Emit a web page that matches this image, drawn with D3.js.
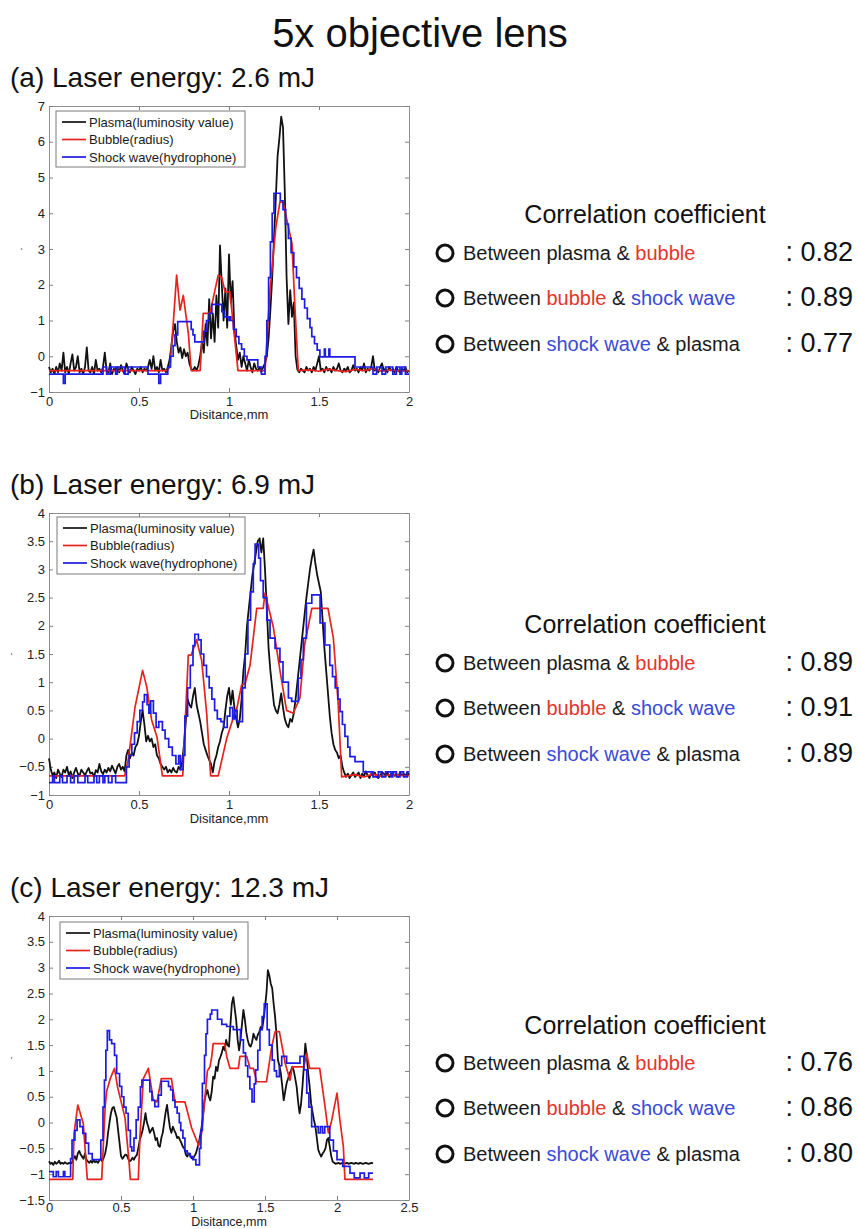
<!DOCTYPE html>
<html>
<head>
<meta charset="utf-8">
<script src="https://cdn.jsdelivr.net/npm/d3@7"></script>
<style>
  body { margin: 0; background: #fff; }
  svg text { font-family: "Liberation Sans", Arial, Helvetica, sans-serif; }
</style>
</head>
<body>
<svg id="fig" width="859" height="1229"></svg>
<script>
// ---------- text ----------
const figureTitle = "5x objective lens";
const panelLabels = ["(a) Laser energy: 2.6 mJ", "(b) Laser energy: 6.9 mJ", "(c) Laser energy: 12.3 mJ"];
const seriesNames = ["Plasma(luminosity value)", "Bubble(radius)", "Shock wave(hydrophone)"];
const xAxisLabel = "Disitance,mm";
const corrTitle = "Correlation coefficient";

// ---------- correlation coefficients per panel (plasma&bubble, bubble&shock, shock&plasma) ----------
const corrA = [0.82, 0.89, 0.77];
const corrB = [0.89, 0.91, 0.89];
const corrC = [0.76, 0.86, 0.80];

// ---------- tick values ----------
const xTicksA = [0, 0.5, 1, 1.5, 2];
const yTicksA = [-1, 0, 1, 2, 3, 4, 5, 6, 7];
const xTicksB = [0, 0.5, 1, 1.5, 2];
const yTicksB = [-1, -0.5, 0, 0.5, 1, 1.5, 2, 2.5, 3, 3.5, 4];
const xTicksC = [0, 0.5, 1, 1.5, 2, 2.5];
const yTicksC = [-1.5, -1, -0.5, 0, 0.5, 1, 1.5, 2, 2.5, 3, 3.5, 4];

// ---------- plasma luminosity, sampled every 0.01 mm from 0 ----------
const plasmaStep = 0.01;
const plasmaA = [
  -0.3,-0.45,-0.35,-0.5,-0.3,-0.45,-0.2,-0.4,0.1,-0.45,
  -0.3,-0.5,-0.2,0.05,-0.4,-0.3,0.0,-0.45,-0.35,-0.5,
  -0.3,0.25,-0.4,-0.45,-0.3,-0.5,-0.1,-0.4,-0.35,-0.45,
  -0.3,0.1,-0.4,-0.45,-0.2,-0.5,-0.35,-0.4,-0.3,-0.45,
  -0.25,-0.4,-0.5,-0.2,-0.35,-0.45,-0.3,-0.4,-0.5,-0.35,
  -0.4,-0.3,-0.45,-0.35,-0.4,-0.3,-0.1,-0.35,0.0,-0.4,
  -0.3,-0.45,-0.1,-0.4,-0.35,-0.45,-0.3,-0.1,0.3,0.7,
  0.9,0.4,0.1,0.25,-0.05,0.2,0.0,0.1,-0.2,-0.35,
  -0.4,-0.3,-0.4,-0.25,0.0,0.4,0.1,0.9,0.3,1.6,
  0.5,1.2,0.4,1.7,0.8,3.1,2.0,1.0,1.9,0.8,
  2.85,1.5,2.1,0.7,0.3,-0.1,0.1,-0.3,0.0,-0.2,
  -0.4,-0.1,-0.3,-0.45,-0.2,-0.35,-0.4,-0.3,-0.45,-0.3,
  -0.2,0.0,0.5,1.3,2.2,3.3,4.4,5.6,6.1,6.7,
  6.4,4.6,2.2,0.9,1.85,1.1,1.5,0.0,-0.38,-0.45,
  -0.35,-0.4,-0.45,-0.3,-0.4,-0.35,-0.45,-0.3,-0.4,-0.2,
  0.0,-0.4,-0.35,-0.45,-0.3,-0.4,-0.35,-0.45,-0.3,-0.4,
  -0.35,-0.2,-0.4,-0.45,-0.35,-0.4,-0.3,-0.45,-0.4,-0.25,
  -0.4,-0.35,-0.45,-0.3,-0.4,-0.2,-0.45,-0.35,-0.4,-0.3,
  0.0,-0.4,-0.35,-0.45,-0.3,-0.2,-0.4,-0.35,-0.45,-0.3,
  -0.4,-0.35,-0.45,-0.3,-0.4,-0.45,-0.35,-0.4,-0.3,-0.45,-0.4
];
const plasmaB = [
  -0.35,-0.55,-0.65,-0.6,-0.7,-0.55,-0.62,-0.68,-0.55,-0.6,
  -0.5,-0.65,-0.58,-0.7,-0.6,-0.52,-0.62,-0.66,-0.55,-0.6,
  -0.65,-0.58,-0.52,-0.62,-0.6,-0.68,-0.56,-0.6,-0.45,-0.58,
  -0.63,-0.55,-0.6,-0.52,-0.58,-0.48,-0.55,-0.62,-0.5,-0.45,
  -0.55,-0.5,-0.58,-0.3,-0.2,-0.35,-0.25,-0.3,-0.15,-0.1,
  0.05,0.3,0.5,0.25,-0.05,0.05,-0.05,0.0,-0.15,-0.1,
  -0.3,-0.35,-0.45,-0.5,-0.55,-0.5,-0.6,-0.55,-0.6,-0.52,
  -0.58,-0.6,-0.5,-0.55,-0.4,-0.1,0.3,0.7,0.6,0.55,
  0.75,0.9,0.6,0.45,0.3,0.1,-0.1,-0.2,-0.3,-0.38,
  -0.45,-0.6,-0.4,-0.3,-0.15,-0.05,0.1,0.2,0.5,0.75,
  0.9,0.6,0.85,0.55,0.35,0.2,0.35,0.7,1.2,1.5,
  2.0,2.3,2.6,2.9,3.1,3.3,3.5,3.55,3.3,3.55,
  3.0,2.3,1.6,1.2,0.9,0.6,0.5,0.45,0.6,0.8,
  0.55,0.35,0.25,0.2,0.35,0.3,0.45,0.7,1.0,1.3,
  1.6,1.9,2.2,2.5,2.75,3.0,3.2,3.35,3.1,2.9,
  2.75,2.6,2.1,1.6,1.2,0.8,0.4,0.1,-0.1,-0.2,
  -0.25,-0.35,-0.3,-0.5,-0.6,-0.68,-0.62,-0.7,-0.65,-0.6,
  -0.68,-0.64,-0.6,-0.7,-0.62,-0.66,-0.58,-0.65,-0.7,-0.62,
  -0.66,-0.6,-0.68,-0.7,-0.65,-0.6,-0.62,-0.66,-0.6,-0.68,
  -0.64,-0.6,-0.66,-0.62,-0.68,-0.6,-0.65,-0.62,-0.66,-0.6,-0.64
];
const plasmaC = [
  -0.75,-0.8,-0.78,-0.82,-0.76,-0.8,-0.78,-0.74,-0.8,-0.78,
  -0.8,-0.77,-0.79,-0.8,-0.78,-0.79,-0.78,-0.7,-0.65,-0.72,
  -0.6,-0.55,-0.62,-0.66,-0.7,-0.6,-0.72,-0.75,-0.78,-0.74,
  -0.78,-0.72,-0.77,-0.75,-0.78,-0.73,-0.7,-0.75,-0.68,-0.6,
  -0.45,-0.2,0.0,0.18,0.28,0.3,0.2,0.1,-0.15,-0.4,
  -0.65,-0.7,-0.66,-0.62,-0.63,-0.7,-0.75,-0.73,-0.68,-0.72,
  -0.66,-0.63,-0.5,-0.34,-0.25,-0.15,0.0,0.18,0.0,-0.08,
  -0.2,-0.15,-0.1,-0.2,-0.34,-0.3,-0.45,-0.47,-0.3,-0.2,
  0.0,0.2,0.34,0.1,-0.1,-0.2,-0.08,-0.15,-0.21,-0.3,
  -0.28,-0.34,-0.4,-0.47,-0.5,-0.62,-0.66,-0.6,-0.62,-0.69,
  -0.7,-0.65,-0.6,-0.5,-0.4,-0.25,-0.08,0.15,0.43,0.55,
  0.63,0.5,0.43,0.6,0.89,0.85,1.08,1.0,1.2,1.27,
  1.35,1.47,1.4,1.6,1.5,1.47,1.9,2.3,2.43,2.2,
  1.98,1.6,1.4,1.6,1.9,2.18,2.0,1.75,1.6,1.5,
  1.47,1.55,1.72,1.65,1.6,1.7,1.75,1.85,1.8,2.0,
  2.24,2.5,2.95,2.85,2.69,2.6,2.3,2.05,1.7,1.21,
  1.1,0.95,0.7,0.43,0.6,0.76,0.85,0.95,1.0,1.08,
  1.0,0.85,0.69,0.4,0.18,0.35,0.69,1.1,1.53,1.3,
  0.95,0.7,0.37,0.2,0.05,-0.08,-0.3,-0.53,-0.6,-0.66,
  -0.6,-0.56,-0.5,-0.34,-0.3,-0.47,-0.65,-0.76,-0.78,-0.8,
  -0.79,-0.78,-0.8,-0.79,-0.78,-0.8,-0.79,-0.78,-0.8,-0.79,
  -0.78,-0.79,-0.8,-0.78,-0.79,-0.8,-0.78,-0.79,-0.8,-0.79,
  -0.78,-0.79,-0.8,-0.79,-0.78,-0.79
];

// ---------- bubble radius: [distance mm, value] ----------
const bubbleA = [
  [0,-0.4],[0.655,-0.4],[0.672,-0.3],[0.69,0.9],[0.709,2.27],[0.728,1.29],[0.746,1.7],
  [0.774,0.65],[0.79,-0.4],[0.84,-0.4],[0.857,1.2],[0.894,1.2],[0.94,2.27],[0.96,2.2],
  [0.978,1.8],[1.005,1.8],[1.05,-0.4],[1.2,-0.4],[1.228,1.85],[1.26,3.6],[1.283,4.32],
  [1.3,4.3],[1.33,3.62],[1.35,3.15],[1.367,1.29],[1.385,-0.4],[1.45,-0.38],[1.5,-0.42],
  [1.55,-0.36],[1.6,-0.4],[1.65,-0.43],[1.7,-0.37],[1.75,-0.4],[1.8,-0.35],[1.85,-0.42],
  [1.9,-0.38],[1.95,-0.42],[2.0,-0.4]
];
const bubbleB = [
  [0,-0.66],[0.42,-0.66],[0.44,-0.38],[0.478,0.56],[0.52,1.21],[0.543,0.92],[0.57,0.33],
  [0.6,0.03],[0.63,-0.66],[0.743,-0.66],[0.774,1.48],[0.79,1.48],[0.82,1.75],[0.848,1.39],
  [0.876,0.45],[0.898,-0.66],[0.94,-0.66],[0.987,0.0],[1.024,0.37],[1.04,0.48],[1.07,0.95],
  [1.09,0.98],[1.117,1.3],[1.154,2.31],[1.19,2.31],[1.2,2.58],[1.246,1.98],[1.283,1.21],
  [1.32,0.5],[1.357,0.45],[1.394,0.72],[1.42,1.66],[1.46,2.31],[1.55,2.31],[1.58,1.78],
  [1.607,0.6],[1.626,-0.68],[1.7,-0.64],[1.75,-0.68],[1.8,-0.63],[1.85,-0.67],[1.9,-0.64],[2.0,-0.66]
];
const bubbleC = [
  [0,-1.1],[0.165,-1.1],[0.174,-0.21],[0.2,0.34],[0.238,-0.02],[0.266,-1.1],[0.366,-1.1],
  [0.39,0.3],[0.4,0.6],[0.425,0.85],[0.455,1.05],[0.475,0.7],[0.528,0.09],[0.557,-0.8],
  [0.565,-1.1],[0.62,-1.1],[0.632,-0.25],[0.655,0.85],[0.69,1.05],[0.724,0.44],[0.75,0.4],
  [0.78,0.85],[0.85,0.85],[0.875,0.4],[0.944,0.4],[0.99,-0.1],[1.04,-0.45],[1.06,-0.2],
  [1.08,0.4],[1.1,1.0],[1.118,1.08],[1.13,1.27],[1.14,1.53],[1.22,1.53],[1.234,1.28],
  [1.257,1.05],[1.315,1.05],[1.326,1.28],[1.373,1.28],[1.396,1.05],[1.42,1.05],[1.442,0.79],
  [1.51,0.79],[1.547,1.47],[1.57,1.76],[1.6,1.76],[1.64,1.15],[1.674,0.82],[1.69,1.08],
  [1.77,1.08],[1.79,1.34],[1.81,1.05],[1.88,1.05],[1.917,0.31],[1.94,-0.2],[1.96,0.0],
  [2.0,0.57],[2.02,0.05],[2.044,-0.46],[2.055,-1.1],[2.25,-1.1]
];

// ---------- shock wave (hydrophone), stepped: [distance mm, value] ----------
const shockA = [
  [0,-0.5],[0.08,-0.76],[0.09,-0.5],[0.3,-0.3],[0.32,-0.5],[0.34,-0.3],[0.37,-0.5],[0.38,-0.3],
  [0.42,-0.5],[0.44,-0.3],[0.55,-0.5],[0.61,-0.76],[0.62,-0.5],[0.66,-0.3],[0.675,0.0],
  [0.69,0.3],[0.7,0.6],[0.715,0.97],[0.79,0.75],[0.8,0.6],[0.81,0.4],[0.86,0.7],[0.875,1.0],
  [0.89,1.2],[0.905,1.45],[0.96,1.25],[0.975,1.1],[1.0,1.0],[1.005,1.1],[1.01,1.0],[1.025,0.75],
  [1.04,0.55],[1.055,0.35],[1.07,0.2],[1.085,0.0],[1.1,-0.1],[1.16,-0.3],[1.18,-0.5],[1.2,0.0],
  [1.21,1.0],[1.22,2.2],[1.23,3.2],[1.24,4.0],[1.25,4.56],[1.285,4.35],[1.3,4.1],[1.315,3.7],
  [1.33,3.3],[1.345,2.9],[1.36,2.5],[1.375,2.2],[1.39,1.9],[1.405,1.6],[1.42,1.35],[1.435,1.05],
  [1.45,0.8],[1.46,0.55],[1.475,0.35],[1.49,0.17],[1.505,-0.02],[1.53,0.2],[1.535,-0.02],
  [1.555,0.2],[1.56,-0.02],[1.7,-0.3],[1.8,-0.5],[1.82,-0.3],[1.85,-0.5],[1.87,-0.3],[1.91,-0.5],
  [1.93,-0.3],[1.95,-0.5],[1.96,-0.3],[1.98,-0.5],[2.0,-0.5]
];
const shockB = [
  [0,-0.78],[0.02,-0.66],[0.03,-0.78],[0.06,-0.66],[0.075,-0.78],[0.1,-0.66],[0.12,-0.78],
  [0.14,-0.66],[0.16,-0.78],[0.2,-0.66],[0.215,-0.78],[0.25,-0.66],[0.265,-0.78],[0.28,-0.66],
  [0.3,-0.78],[0.31,-0.66],[0.33,-0.78],[0.35,-0.66],[0.37,-0.78],[0.43,-0.5],[0.445,-0.3],
  [0.46,-0.1],[0.475,0.1],[0.49,0.3],[0.505,0.5],[0.52,0.65],[0.53,0.78],[0.545,0.6],[0.555,0.45],
  [0.565,0.67],[0.58,0.45],[0.595,0.2],[0.61,0.3],[0.63,0.15],[0.645,0.0],[0.665,-0.15],
  [0.685,-0.3],[0.705,-0.45],[0.72,-0.3],[0.73,-0.55],[0.745,-0.3],[0.755,0.4],[0.77,0.9],
  [0.785,1.3],[0.8,1.65],[0.81,1.85],[0.83,1.75],[0.845,1.5],[0.86,1.3],[0.875,1.1],[0.89,0.9],
  [0.905,0.7],[0.92,0.5],[0.935,0.35],[0.955,0.3],[0.97,0.2],[0.99,0.4],[1.005,0.55],[1.02,0.35],
  [1.03,0.5],[1.045,0.3],[1.075,0.9],[1.09,1.5],[1.105,2.1],[1.12,2.6],[1.135,3.1],[1.145,3.45],
  [1.165,3.2],[1.175,2.8],[1.19,2.5],[1.21,2.1],[1.228,1.78],[1.256,1.6],[1.283,1.36],[1.3,1.0],
  [1.33,0.72],[1.348,0.66],[1.385,1.07],[1.4,1.4],[1.413,1.78],[1.43,2.4],[1.46,2.55],[1.487,2.55],
  [1.506,2.05],[1.533,1.66],[1.56,1.3],[1.575,1.1],[1.59,0.9],[1.605,0.7],[1.617,0.48],[1.63,0.25],
  [1.644,0.04],[1.66,-0.15],[1.672,-0.32],[1.7,-0.41],[1.746,-0.59],[1.8,-0.68],[1.83,-0.59],
  [1.85,-0.68],[1.87,-0.59],[1.9,-0.68],[1.91,-0.59],[1.93,-0.68],[1.95,-0.59],[1.97,-0.68],
  [1.99,-0.59],[2.0,-0.59]
];
const shockC = [
  [0,-0.95],[0.03,-1.05],[0.05,-0.95],[0.065,-1.05],[0.1,-0.95],[0.11,-1.05],[0.15,-0.7],
  [0.16,-0.34],[0.18,-0.15],[0.195,0.05],[0.215,-0.08],[0.235,-0.21],[0.255,-0.4],[0.275,-0.6],
  [0.3,-0.72],[0.36,-0.34],[0.375,0.3],[0.385,0.82],[0.395,1.4],[0.405,1.78],[0.42,1.6],
  [0.435,1.53],[0.455,1.3],[0.47,0.95],[0.49,0.7],[0.505,0.5],[0.52,0.3],[0.535,0.18],
  [0.55,-0.15],[0.565,-0.47],[0.575,-0.55],[0.59,-0.3],[0.605,0.05],[0.62,0.3],[0.635,0.69],
  [0.645,0.82],[0.7,0.6],[0.715,0.43],[0.735,0.31],[0.76,0.53],[0.78,0.8],[0.83,0.7],
  [0.845,0.63],[0.86,0.43],[0.875,0.3],[0.89,0.18],[0.905,0.0],[0.915,-0.15],[0.93,-0.3],
  [0.944,-0.55],[0.96,-0.6],[0.98,-0.66],[1.0,-0.72],[1.02,-0.82],[1.045,-0.5],[1.055,-0.15],
  [1.065,0.76],[1.08,1.3],[1.09,1.72],[1.1,2.0],[1.12,2.1],[1.13,2.18],[1.17,2.0],[1.2,1.9],
  [1.234,1.86],[1.28,1.8],[1.33,1.6],[1.35,1.35],[1.365,1.1],[1.38,0.89],[1.395,0.65],
  [1.41,0.4],[1.425,0.75],[1.435,1.02],[1.45,1.4],[1.465,1.8],[1.48,2.05],[1.495,2.3],
  [1.515,1.8],[1.53,1.5],[1.55,1.21],[1.565,1.0],[1.58,0.89],[1.6,1.1],[1.616,1.28],
  [1.65,1.15],[1.72,1.15],[1.743,1.28],[1.77,1.02],[1.79,0.57],[1.805,0.3],[1.824,-0.08],
  [1.87,-0.2],[1.885,-0.08],[1.9,-0.2],[1.915,-0.08],[1.95,-0.34],[1.975,-0.55],[2.0,-0.72],
  [2.04,-0.85],[2.09,-0.98],[2.12,-1.07],[2.16,-0.98],[2.19,-1.07],[2.22,-0.98],[2.25,-0.98]
];

// ---------- drawing ----------
const svg = d3.select("#fig");
const LINE = { plasma: "#111111", bubble: "#e8231d", shock: "#1c1ce6" };
const WORD_RED = "#e3362c";
const WORD_BLUE = "#3a4ad6";

svg.append("text")
  .attr("x", 420).attr("y", 47)
  .attr("text-anchor", "middle")
  .attr("font-size", 40)
  .attr("fill", "#111")
  .text(figureTitle);

const layout = [
  { top: 106, bottom: 392, labelY: 87, markX: 21, tickPad: 5, xTitleY: 419, xTitleSize: 13, legend: { x: 56, y: 111, w: 189, h: 56 }, corrY: 223, rowY: [260, 305, 351] },
  { top: 513, bottom: 795, labelY: 494, markX: 11, tickPad: 5, xTitleY: 823, xTitleSize: 13, legend: { x: 57, y: 517, w: 188, h: 57 }, corrY: 633, rowY: [670, 715, 761] },
  { top: 916, bottom: 1200, labelY: 897, markX: 11, tickPad: 3, xTitleY: 1226, xTitleSize: 12.5, legend: { x: 60, y: 922, w: 188, h: 57 }, corrY: 1034, rowY: [1070, 1115, 1161] }
];

const panelData = [
  { plasma: plasmaA, bubble: bubbleA, shock: shockA, xTicks: xTicksA, yTicks: yTicksA, corr: corrA },
  { plasma: plasmaB, bubble: bubbleB, shock: shockB, xTicks: xTicksB, yTicks: yTicksB, corr: corrB },
  { plasma: plasmaC, bubble: bubbleC, shock: shockC, xTicks: xTicksC, yTicks: yTicksC, corr: corrC }
];

const LEFT = 49, RIGHT = 409;
const tickFmt = d3.format("~g");

// Row text pieces: [text, colour]
const corrRows = [
  [["Between plasma & ", "#1a1a1a"], ["bubble", WORD_RED]],
  [["Between ", "#1a1a1a"], ["bubble", WORD_RED], [" & ", "#1a1a1a"], ["shock wave", WORD_BLUE]],
  [["Between ", "#1a1a1a"], ["shock wave", WORD_BLUE], [" & plasma", "#1a1a1a"]]
];

panelData.forEach((d, i) => {
  const L = layout[i];
  const x = d3.scaleLinear().domain(d3.extent(d.xTicks)).range([LEFT, RIGHT]);
  const y = d3.scaleLinear().domain(d3.extent(d.yTicks)).range([L.bottom, L.top]);

  // panel heading
  svg.append("text")
    .attr("x", 10).attr("y", L.labelY)
    .attr("font-size", 28).attr("fill", "#111")
    .text(panelLabels[i]);

  const g = svg.append("g");
  g.append("rect")
    .attr("x", LEFT).attr("y", L.top)
    .attr("width", RIGHT - LEFT).attr("height", L.bottom - L.top)
    .attr("fill", "#fff");

  // axes with inward ticks on all four sides
  const axB = g.append("g").attr("transform", `translate(0,${L.bottom})`)
    .call(d3.axisBottom(x).tickValues(d.xTicks).tickFormat(tickFmt).tickSizeInner(-4).tickSizeOuter(0).tickPadding(L.tickPad));
  const axT = g.append("g").attr("transform", `translate(0,${L.top})`)
    .call(d3.axisTop(x).tickValues(d.xTicks).tickFormat("").tickSizeInner(-4).tickSizeOuter(0));
  const axL = g.append("g").attr("transform", `translate(${LEFT},0)`)
    .call(d3.axisLeft(y).tickValues(d.yTicks).tickFormat(tickFmt).tickSizeInner(-4).tickSizeOuter(0).tickPadding(4));
  const axR = g.append("g").attr("transform", `translate(${RIGHT},0)`)
    .call(d3.axisRight(y).tickValues(d.yTicks).tickFormat("").tickSizeInner(-4).tickSizeOuter(0));
  [axB, axT, axL, axR].forEach(a => {
    a.select(".domain").attr("stroke", "#909090");
    a.selectAll(".tick line").attr("stroke", "#808080");
    a.selectAll(".tick text")
      .attr("font-size", 13).attr("fill", "#222")
      .attr("font-family", '"Liberation Sans", Arial, sans-serif');
  });

  // x-axis title
  g.append("text")
    .attr("x", (LEFT + RIGHT) / 2).attr("y", L.xTitleY)
    .attr("text-anchor", "middle")
    .attr("font-size", L.xTitleSize).attr("fill", "#222")
    .text(xAxisLabel);

  // y-axis label mark
  g.append("text")
    .attr("transform", `translate(${L.markX},${(L.top + L.bottom) / 2}) rotate(-90)`)
    .attr("text-anchor", "middle").attr("dy", "0.35em")
    .attr("font-size", 9).attr("fill", "#555")
    .text("-");

  // data lines
  const plasmaPts = d.plasma.map((v, k) => [k * plasmaStep, v]);
  const lineLin = d3.line().x(p => x(p[0])).y(p => y(p[1]));
  const lineStep = d3.line().x(p => x(p[0])).y(p => y(p[1])).curve(d3.curveStepAfter);

  g.append("path").datum(plasmaPts).attr("d", lineLin)
    .attr("fill", "none").attr("stroke", LINE.plasma).attr("stroke-width", 1.8).attr("stroke-linejoin", "round");
  g.append("path").datum(d.bubble).attr("d", lineLin)
    .attr("fill", "none").attr("stroke", LINE.bubble).attr("stroke-width", 1.7).attr("stroke-linejoin", "round");
  g.append("path").datum(d.shock).attr("d", lineStep)
    .attr("fill", "none").attr("stroke", LINE.shock).attr("stroke-width", 1.7);

  // legend
  const lg = g.append("g").attr("transform", `translate(${L.legend.x},${L.legend.y})`);
  lg.append("rect").attr("width", L.legend.w).attr("height", L.legend.h)
    .attr("fill", "#fff").attr("stroke", "#7a7a7a").attr("stroke-width", 1);
  const legendColors = [LINE.plasma, LINE.bubble, LINE.shock];
  seriesNames.forEach((name, k) => {
    const ry = 11 + k * 17.5;
    lg.append("line").attr("x1", 6).attr("x2", 30).attr("y1", ry).attr("y2", ry)
      .attr("stroke", legendColors[k]).attr("stroke-width", 1.7);
    lg.append("text").attr("x", 33).attr("y", ry).attr("dy", "0.35em")
      .attr("font-size", 13).attr("fill", "#1a1a1a").text(name);
  });

  // correlation block
  svg.append("text")
    .attr("x", 645).attr("y", L.corrY)
    .attr("text-anchor", "middle")
    .attr("font-size", 25).attr("fill", "#111")
    .text(corrTitle);

  corrRows.forEach((pieces, k) => {
    const by = L.rowY[k];
    svg.append("circle")
      .attr("cx", 445).attr("cy", by - 7).attr("r", 8)
      .attr("fill", "none").attr("stroke", "#111").attr("stroke-width", 3);
    const t = svg.append("text")
      .attr("x", 463).attr("y", by)
      .attr("font-size", 20)
      .style("white-space", "pre");
    pieces.forEach(([s, c]) => t.append("tspan").attr("fill", c).text(s));
    svg.append("text")
      .attr("x", 853).attr("y", by + 1)
      .attr("text-anchor", "end")
      .attr("font-size", 27).attr("fill", "#111")
      .style("white-space", "pre")
      .text(": " + d3.format(".2f")(d.corr[k]));
  });
});
</script>
</body>
</html>
